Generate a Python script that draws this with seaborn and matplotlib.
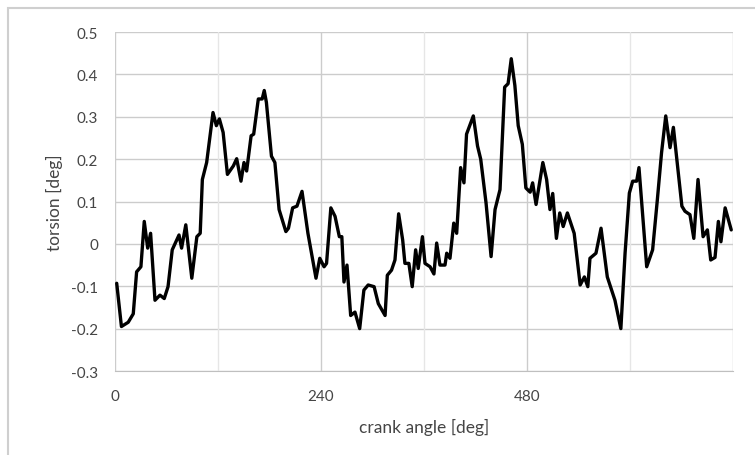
import numpy as np
import pandas as pd
import seaborn as sns
import matplotlib
matplotlib.use("Agg")
import matplotlib.pyplot as plt
from matplotlib.patches import Rectangle

# crank angle [deg] and torsion [deg]
crank_angle = [2, 7.5, 15.4, 21.3, 25.2, 30.2, 34.1, 38.1, 41.5, 46.6, 52.4, 57.4, 61.8, 66.7, 74.6,
               77.6, 82.5, 89.5, 95.4, 99.3, 101.8, 106.8, 114.2, 118.1, 121.6, 126, 131, 137.9,
               141.8, 146.8, 150.3, 153.4, 158.6, 161.6, 167, 171.5, 173.9, 176.4, 182.3, 186.3,
               191.2, 199.1, 202.1, 207, 212, 217.9, 224.8, 234.2, 238.6, 243.6, 246.5,
               251.5, 256.4, 261.4, 264.3, 266.8, 270.3, 274.6, 279.6, 285.1, 290, 295, 301.9,
               306.8, 314.7, 317.3, 322.2, 326.2, 330.5, 335.2, 337.8, 342.4, 346.3, 350.3, 353.3,
               358.2, 361.2, 367.1, 371.6, 374.8, 378.6, 384.5, 386.5, 390.3, 394.7, 398.1, 402.7,
               406.6, 409.6, 417.5, 422.4, 426.1, 432.3, 438.2, 442.8, 448.6, 454, 458, 461.7,
               465.9, 469.8, 474.6, 478.7, 483.7, 486.6, 490.6, 498.5, 502.9,
               506.8, 510, 514.3, 518.2, 522.2, 527.1, 535, 542, 546.9, 550.9, 553.4, 560.4, 566.3,
               573.6, 582.5, 589.4, 594.3, 599.3, 603.2, 607.8, 610.5, 619.5, 626.4, 631.9, 636.8,
               641.7, 646.7, 650.6, 654.6, 660.5, 664.1, 669.9, 674.4, 679.3, 685.2, 690.2, 694.1,
               699.1, 703, 706, 710.9, 718]
torsion = [-0.093, -0.195, -0.185, -0.165, -0.066, -0.054, 0.053, -0.010, 0.025, -0.133, -0.121,
           -0.129, -0.101, -0.014, 0.021, -0.010, 0.045, -0.081, 0.017, 0.025,
           0.152, 0.192, 0.310, 0.279, 0.295, 0.263, 0.164, 0.184, 0.201, 0.148, 0.192, 0.172,
           0.255, 0.259, 0.342, 0.342, 0.362, 0.334, 0.207, 0.192, 0.081, 0.029, 0.037, 0.085,
           0.089, 0.124, 0.025, -0.081, -0.034, -0.054, -0.046,
           0.085, 0.065, 0.017, 0.017, -0.090, -0.050, -0.169, -0.161, -0.200, -0.109, -0.097,
           -0.101, -0.141, -0.169, -0.074, -0.062, -0.038, 0.071, 0.009, -0.046, -0.046, -0.101,
           -0.014, -0.058, 0.017, -0.046, -0.054, -0.071, 0.002,
           -0.050, -0.050, -0.022, -0.034, 0.049, 0.025, 0.180, 0.144, 0.259, 0.302, 0.231,
           0.200, 0.097, -0.030, 0.081, 0.128, 0.370, 0.378, 0.437, 0.374, 0.279, 0.235, 0.132,
           0.122, 0.144, 0.093, 0.192, 0.152,
           0.081, 0.119, 0.013, 0.073, 0.041, 0.073, 0.025, -0.097, -0.078, -0.101, -0.034,
           -0.022, 0.037, -0.078, -0.133, -0.200, -0.022, 0.120, 0.148, 0.148, 0.180, -0.054,
           -0.014, 0.104, 0.215, 0.302, 0.227, 0.275, 0.200, 0.089,
           0.077, 0.069, 0.013, 0.152, 0.017, 0.033, -0.038, -0.032, 0.053, 0.005, 0.085, 0.033]

x_ticks = [0, 240, 480]
y_ticks = [-0.3, -0.2, -0.1, 0, 0.1, 0.2, 0.3, 0.4, 0.5]
y_labels = ['-0.3', '-0.2', '-0.1', '0', '0.1', '0.2', '0.3', '0.4', '0.5']

df = pd.DataFrame({'crank angle': crank_angle, 'torsion': torsion})

sns.set_style('white')
plt.rcParams['font.family'] = ['Lato', 'DejaVu Sans']
text_col = '#454545'

fig = plt.figure(figsize=(7.55, 4.56), dpi=100)
ax = fig.add_axes([0.1523, 0.1842, 0.8185, 0.7434])

# grid: major every 0.1 / 240 deg, lighter minor at 120 deg
for v in y_ticks:
    ax.axhline(v, color='#cccccc', lw=1, zorder=0)
for v in [0, 240, 480, 720]:
    ax.axvline(v, color='#cccccc', lw=1, zorder=0)
for v in [120, 360, 600]:
    ax.axvline(v, color='#e6e6e6', lw=1, zorder=0)

sns.lineplot(data=df, x='crank angle', y='torsion', color='black', linewidth=2.4, ax=ax)

ax.set_xlim(0, 720)
ax.set_ylim(-0.3, 0.5)
ax.set_xticks(x_ticks)
ax.set_xticklabels([str(t) for t in x_ticks])
ax.set_yticks(y_ticks)
ax.set_yticklabels(y_labels)
ax.tick_params(length=0, labelsize=11, labelcolor=text_col)
ax.tick_params(axis='y', pad=12)
ax.tick_params(axis='x', pad=13)
for s in ['top', 'right', 'left']:
    ax.spines[s].set_visible(False)
ax.spines['bottom'].set_color('#bfbfbf')

ax.set_xlabel('crank angle [deg]', fontsize=12.5, color=text_col, labelpad=11)
ax.set_ylabel('torsion [deg]', fontsize=12.5, color=text_col, labelpad=6)

# chart border (only the left and top edges fall inside the picture)
fig.add_artist(Rectangle((8 / 755, -0.05), 1.1, 1.05 - 9 / 456, transform=fig.transFigure,
                         fill=False, edgecolor='#cfcfcf', lw=1.5))

fig.savefig('out.png', dpi=100)
